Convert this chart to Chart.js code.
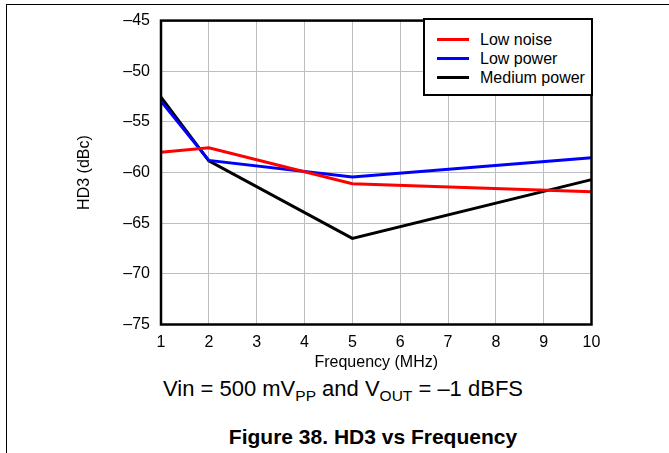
<!DOCTYPE html>
<html>
<head>
<meta charset="utf-8">
<script src="https://cdn.jsdelivr.net/npm/chart.js@4/dist/chart.umd.min.js"></script>
<style>
  html,body{margin:0;padding:0;background:#fff;}
  body{width:669px;height:453px;position:relative;overflow:hidden;font-family:"Liberation Sans",Arial,sans-serif;}
  #frame{position:absolute;left:6px;top:4px;right:-10px;bottom:-10px;border-left:1px solid #000;border-top:1px solid #000;}
  #wrap{position:absolute;left:0;top:0;width:669px;height:376px;}
  #legend{position:absolute;left:423px;top:18px;width:166px;height:74px;border:2px solid #000;background:#fff;}
  #legend .row{position:absolute;left:12px;height:19px;font-size:16px;line-height:19px;color:#000;white-space:nowrap;}
  #legend .sw{display:inline-block;width:32px;height:3px;vertical-align:middle;margin-right:11px;position:relative;top:-1px;}
  #sub{position:absolute;left:143px;width:400px;top:376px;text-align:center;font-size:22px;color:#000;}
  #sub .s{font-size:15.5px;position:relative;top:5px;}
  #cap{position:absolute;left:173px;width:400px;top:425px;text-align:center;font-size:21px;font-weight:bold;color:#000;}
</style>
</head>
<body>
<div id="frame"></div>
<div id="wrap"><canvas id="c"></canvas></div>
<div id="legend"></div>
<div id="sub">Vin = 500 mV<span class="s">PP</span> and V<span class="s">OUT</span> = –1 dBFS</div>
<div id="cap">Figure 38. HD3 vs Frequency</div>
<script>
// frequency points (MHz) and HD3 (dBc)
const freqMHz = [1, 2, 5, 10];
const lowNoise = [-58.0, -57.55, -61.1, -61.9];
const lowPower = [-52.95, -58.8, -60.45, -58.55];
const mediumPower = [-52.55, -58.85, -66.5, -60.7];
const xTicks = [1,2,3,4,5,6,7,8,9,10];
const yTicks = [-75,-70,-65,-60,-55,-50,-45];

const SERIES = [
  {label:"Low noise", data:lowNoise, color:"#ff0000"},
  {label:"Low power", data:lowPower, color:"#0000ff"},
  {label:"Medium power", data:mediumPower, color:"#000000"}
];
const pts = arr => arr.map((y,i)=>({x:freqMHz[i], y}));
const dash = v => (v<0 ? "\u2013" + Math.abs(v) : String(v));

// plot frame drawn over the lines, like the original
const framePlugin = {
  id:"frame",
  afterDatasetsDraw(chart){
    const {ctx, chartArea:a} = chart;
    ctx.save(); ctx.strokeStyle="#000"; ctx.lineWidth=2.5;
    ctx.strokeRect(a.left, a.top, a.right-a.left, a.bottom-a.top);
    ctx.restore();
  }
};

const font = {family:"'Liberation Sans', Arial, sans-serif", size:16};
const chart = new Chart(document.getElementById("c"), {
  type:"line",
  data:{datasets:SERIES.map(s=>({
    label:s.label, data:pts(s.data), borderColor:s.color, backgroundColor:s.color,
    borderWidth:3, pointRadius:0, tension:0, fill:false
  }))},
  options:{
    responsive:true, maintainAspectRatio:false, animation:false,
    layout:{padding:{left:71, top:19, right:77.5, bottom:0}},
    plugins:{legend:{display:false}, tooltip:{enabled:false}},
    scales:{
      x:{type:"linear", min:1, max:10,
        afterBuildTicks:s=>{ s.ticks = xTicks.map(v=>({value:v})); },
        afterFit:s=>{ s.height = 51.5; },
        grid:{color:"#bdbdbd", lineWidth:1, drawTicks:false},
        border:{display:false},
        ticks:{color:"#000", font, padding:8, maxRotation:0},
        title:{display:true, text:"Frequency (MHz)", color:"#000", font}},
      y:{type:"linear", min:-75, max:-45,
        afterBuildTicks:s=>{ s.ticks = yTicks.map(v=>({value:v})); },
        afterFit:s=>{ s.width = 90; },
        grid:{color:"#bdbdbd", lineWidth:1, drawTicks:false},
        border:{display:false},
        ticks:{color:"#000", font, padding:11, callback:dash},
        title:{display:true, text:"HD3 (dBc)", color:"#000", font}}
    }
  },
  plugins:[framePlugin]
});

// legend box built from the chart's datasets
const lg = document.getElementById("legend");
chart.data.datasets.forEach((d,i)=>{
  const r = document.createElement("div");
  r.className="row"; r.style.top = (10 + i*19) + "px";
  r.innerHTML = '<span class="sw" style="background:'+d.borderColor+'"></span>' + d.label;
  lg.appendChild(r);
});
</script>
</body>
</html>
